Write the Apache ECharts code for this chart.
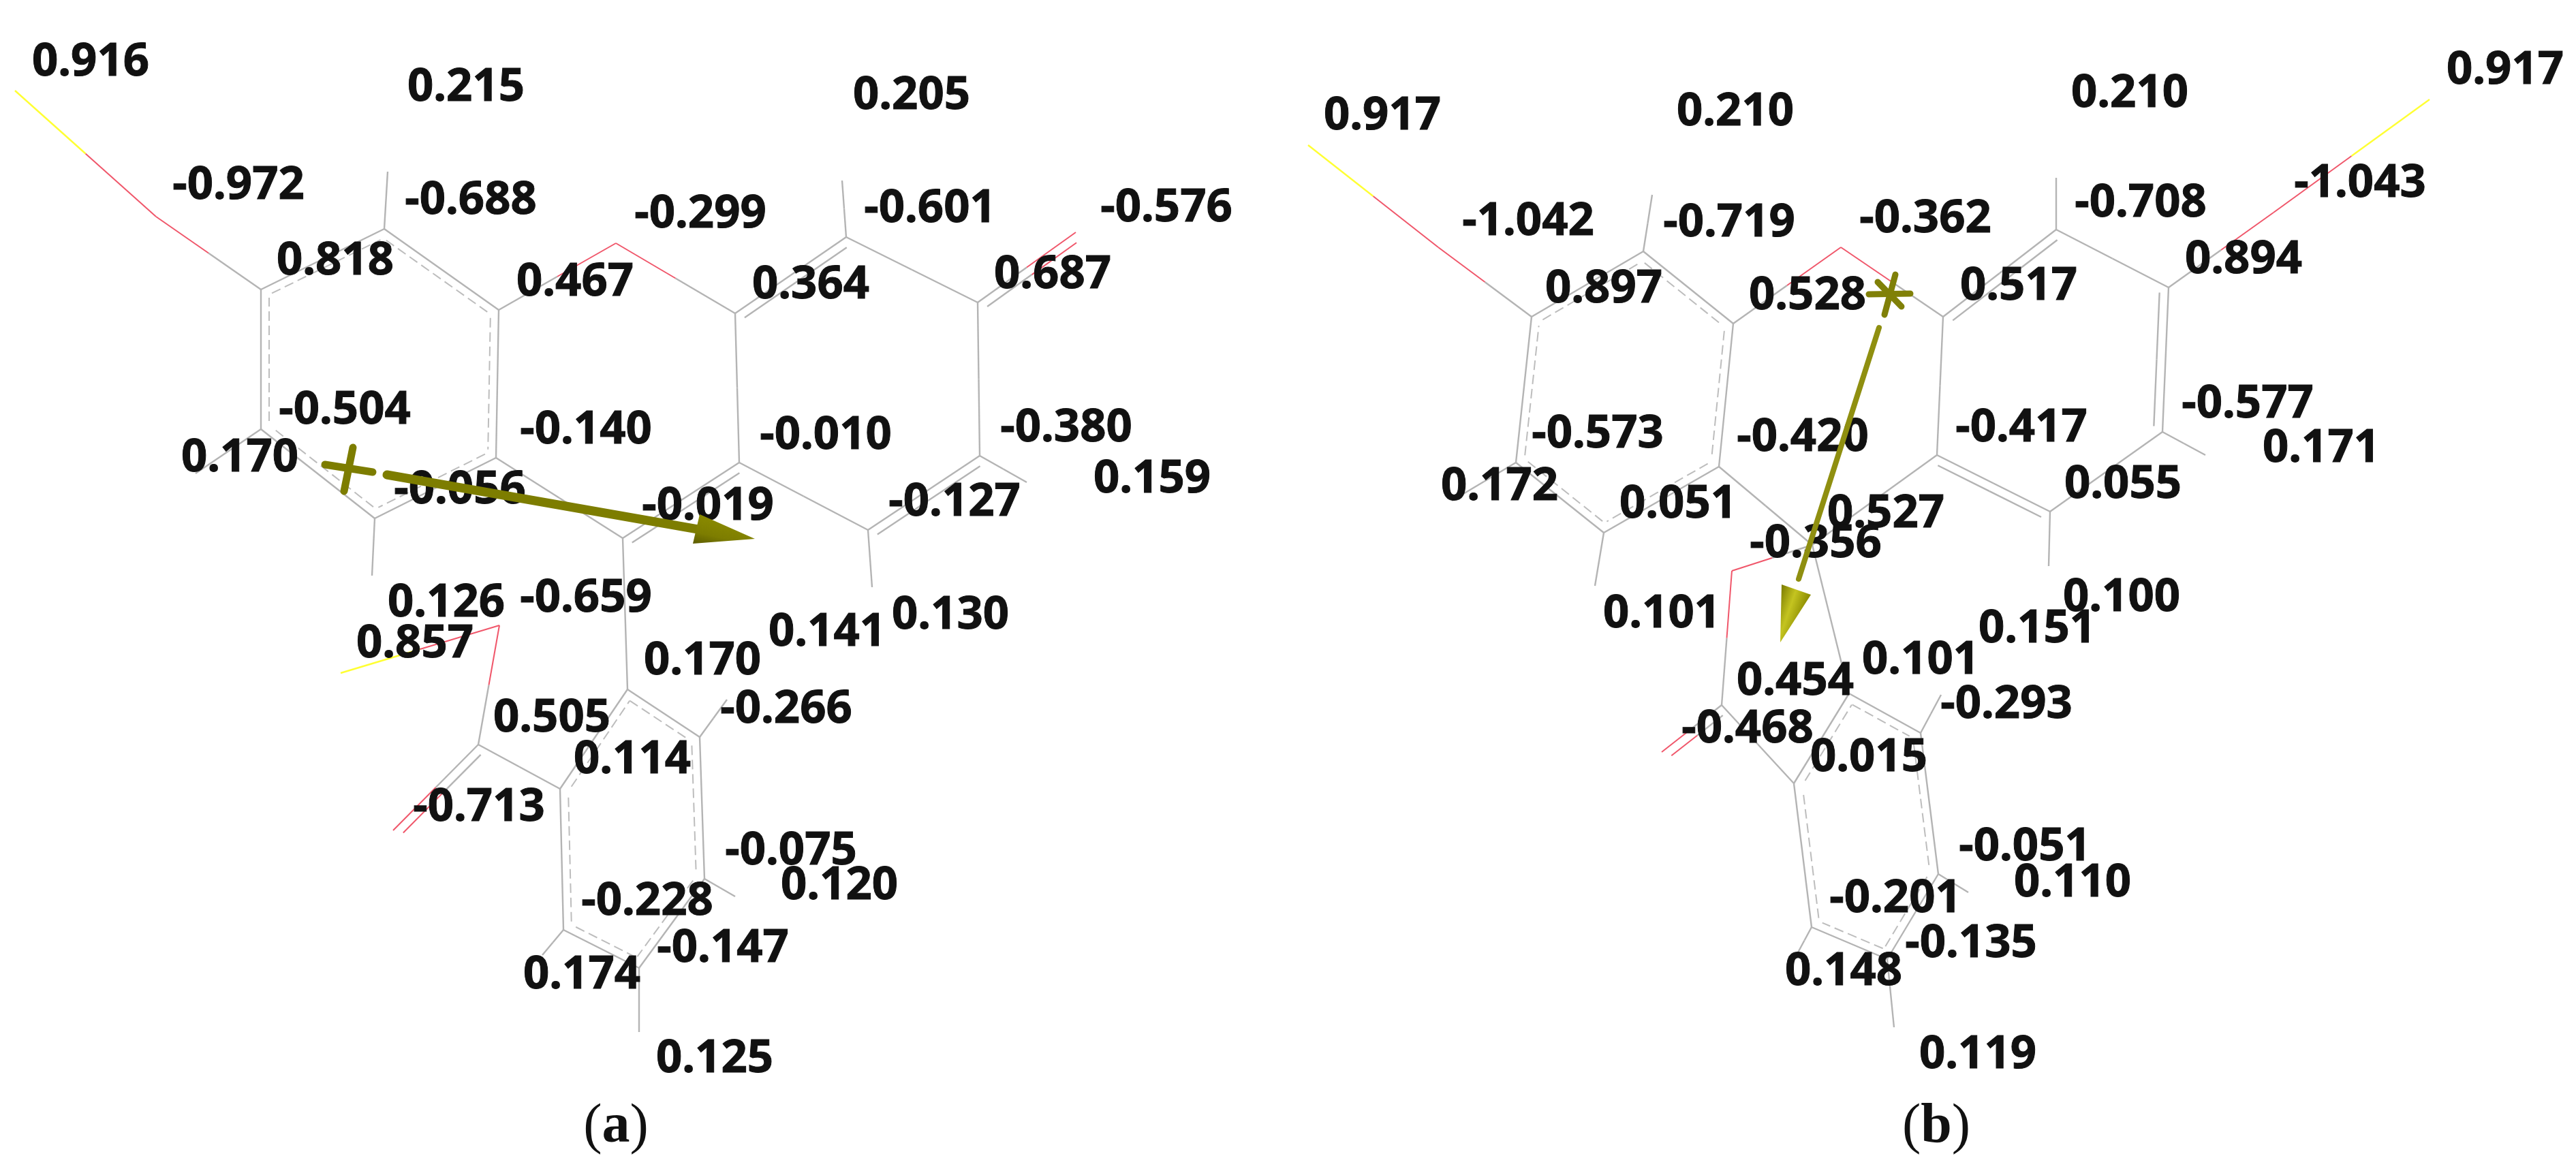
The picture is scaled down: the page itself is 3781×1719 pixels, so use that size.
<!DOCTYPE html>
<html><head><meta charset="utf-8">
<style>html,body{margin:0;padding:0;background:#fff}#c{width:3781px;height:1719px}</style>
<script src="https://cdn.jsdelivr.net/npm/echarts@6/dist/echarts.min.js"></script>
</head><body><div id="c"></div>
<script>
// Atom / bond end positions (figure units)
const atomsA = {H1:[22,133],O1:[229,318],C1:[383,425],C2:[564,336],S2:[569,252],C3:[732,455],C4:[728,672],C5:[550,761],S5:[546,845],C6:[383,630],S6:[287,695],
  O2:[904,357],C7:[1079,460],C8:[1085,679],C9:[914,790],C10:[1242,348],S10:[1236,265],C11:[1435,444],Oe:[1579,341],C12:[1438,669],S12:[1507,708],C13:[1274,778],S13:[1280,862],
  C14:[921,1012],C15:[1027,1082],S15:[1067,1027],C16:[1034,1290],S16:[1079,1316],C17:[938,1421],S17:[938,1515],C18:[827,1365],S18:[796,1402],C19:[822,1158],C20:[702,1093],Of:[577,1219],O3:[733,918],H3:[500,988]};
const singleA = [['H1','O1'],['O1','C1'],['C2','S2'],['C5','S5'],['C6','S6'],['C3','O2'],['O2','C7'],['C10','S10'],['C10','C11'],['C11','C12'],['C7','C8'],['C8','C13'],['C12','S12'],['C13','S13'],['C4','C9'],['C9','C14'],
  ['H3','O3'],['O3','C20'],['C20','C19'],['C15','S15'],['C16','S16'],['C17','S17'],['C18','S18']];
const doubleA = [['C7','C10','C11'],['C8','C9','C13'],['C12','C13','S13'],['C11','Oe','C12'],['C20','Of','C19']];
const aromaticA = [['C1','C2','C4'],['C2','C3','C5'],['C3','C4','C6'],['C4','C5','C1'],['C5','C6','C2'],['C6','C1','C3'],
  ['C14','C15','C17'],['C15','C16','C18'],['C16','C17','C19'],['C17','C18','C14'],['C18','C19','C15'],['C19','C14','C16']];

const atomsB = {H1:[1920,213],O1:[2111,363],C1:[2248,465],C2:[2412,369],S2:[2425,286],C3:[2544,475],C4:[2523,685],C5:[2354,782],S5:[2341,860],C6:[2225,679],S6:[2131,735],
  O2:[2702,363],C7:[2852,465],C8:[2843,668],C9:[2660,800],C10:[3018,337],S10:[3018,261],C11:[3183,422],O4:[3337,312],H4:[3566,146],C12:[3174,634],S12:[3237,668],C13:[3009,751],S13:[3007,831],
  O3:[2542,838],C20:[2527,1035],Of:[2439,1104],C14:[2714,1018],C15:[2819,1076],S15:[2849,1020],C16:[2845,1283],S16:[2889,1310],C17:[2770,1408],S17:[2780,1508],C18:[2659,1361],S18:[2638,1400],C19:[2633,1150]};
const singleB = [['H1','O1'],['O1','C1'],['C2','S2'],['C5','S5'],['C6','S6'],['C3','O2'],['O2','C7'],['C10','S10'],['C10','C11'],['C11','O4'],['O4','H4'],['C7','C8'],['C8','C9'],['C4','C9'],['C9','O3'],['O3','C20'],['C9','C14'],['C20','C19'],['C12','S12'],['C12','C13'],['C13','S13'],['C15','S15'],['C16','S16'],['C17','S17'],['C18','S18']];
const doubleB = [['C7','C10','C11'],['C8','C13','S13'],['C11','C12','C13'],['C20','Of','C19']];
const aromaticB = aromaticA;

// Charge labels: text, x, y
const labelsA = [['0.916',133,92],['0.215',684,129],['0.205',1338,141],['-0.972',350,273],['-0.688',691,295],['-0.299',1028,315],['-0.601',1365,307],['-0.576',1712,306],['0.818',492,384],['0.467',844,415],['0.364',1190,419],['0.687',1545,404],['-0.504',506,603],['-0.140',860,632],['-0.010',1212,640],['-0.380',1565,629],['0.170',352,673],['0.159',1691,704],['-0.056',675,720],['-0.019',1039,744],['-0.127',1401,738],['0.126',655,886],['-0.659',860,879],['0.857',609,946],['0.141',1214,929],['0.130',1395,904],['0.170',1031,971],['0.505',810,1055],['-0.266',1154,1042],['0.114',928,1116],['-0.713',703,1186],['-0.075',1161,1250],['0.120',1232,1301],['-0.228',950,1324],['-0.147',1061,1393],['0.174',854,1432],['0.125',1049,1555]];
const labelsB = [['0.917',2029,171],['0.210',2547,165],['0.210',3126,138],['0.917',3677,104],['-1.043',3464,270],['-1.042',2243,326],['-0.719',2538,328],['-0.362',2826,322],['-0.708',3142,299],['0.894',3293,382],['0.897',2354,425],['0.528',2653,435],['0.517',2963,421],['-0.577',3299,594],['-0.573',2345,638],['-0.420',2646,643],['-0.417',2967,629],['0.171',3407,659],['0.172',2201,715],['0.051',2463,741],['0.055',3116,712],['0.527',2768,755],['-0.356',2665,799],['0.100',3114,878],['0.101',2439,902],['0.151',2990,924],['0.101',2819,970],['0.454',2635,1001],['-0.293',2945,1035],['-0.468',2565,1071],['0.015',2743,1113],['-0.051',2972,1244],['0.110',3042,1297],['-0.201',2782,1320],['-0.135',2893,1386],['0.148',2706,1427],['0.119',2903,1549]];
const captions = [['a',904,1655],['b',2842,1655]];

// Dipole arrows: shaft [x1,y1,x2,y2], head [cornerX,cornerY,cornerX,cornerY,tipX,tipY], origin marks
const shaftA = [[568,697,1030,778]];
const headA = [[1027,755,1017,798,1108,791]];
const crossA = [[477,682,547,693],[518,657,505,721]];
const shaftB = [[2758,481,2640,850]];
const headB = [[2615,858,2658,873,2613,943]];
const crossB = [[2743,432,2804,431],[2766,462,2782,403],[2756,414,2791,450]];

const GREY='#b4b4b4', RED='#f0566a', YEL='#ffff33';
const colorOf = n => n[0]==='H'?YEL : n[0]==='O'?RED : GREY;
const buckets = {[GREY]:[],[RED]:[],[YEL]:[]}, dashed = [];
function half(a,b,ca,cb){const m=[(a[0]+b[0])/2,(a[1]+b[1])/2];buckets[ca].push([a[0],a[1],m[0],m[1]]);buckets[cb].push([m[0],m[1],b[0],b[1]]);}
function offset(a,b,t,d,s){const dx=b[0]-a[0],dy=b[1]-a[1],L=Math.hypot(dx,dy),ux=dx/L,uy=dy/L;let nx=-uy,ny=ux;
  if((t[0]-a[0])*nx+(t[1]-a[1])*ny<0){nx=-nx;ny=-ny;}
  return [[a[0]+nx*d+ux*s,a[1]+ny*d+uy*s],[b[0]+nx*d-ux*s,b[1]+ny*d-uy*s]];}
function build(atoms,single,dbl,aro){
  single.forEach(([i,j])=>half(atoms[i],atoms[j],colorOf(i),colorOf(j)));
  dbl.forEach(([i,j,k])=>{half(atoms[i],atoms[j],colorOf(i),colorOf(j));
    const [p,q]=offset(atoms[i],atoms[j],atoms[k],13,8);half(p,q,colorOf(i),colorOf(j));});
  aro.forEach(([i,j,k])=>{buckets[GREY].push([...atoms[i],...atoms[j]]);
    const [p,q]=offset(atoms[i],atoms[j],atoms[k],12,12);dashed.push([p[0],p[1],q[0],q[1]]);});
}
build(atomsA,singleA,doubleA,aromaticA);
build(atomsB,singleB,doubleB,aromaticB);

function segSeries(name,data,color,width,z,extra){
  return {type:'custom',name,coordinateSystem:'cartesian2d',z,silent:true,clip:false,data,encode:{x:[0,2],y:[1,3]},
    renderItem(p,api){const a=api.coord([api.value(0),api.value(1)]),b=api.coord([api.value(2),api.value(3)]);
      return {type:'line',shape:{x1:a[0],y1:a[1],x2:b[0],y2:b[1]},style:Object.assign({stroke:color,lineWidth:width,fill:null},extra||{})};}};
}
function headSeries(name,data,stops,z){
  return {type:'custom',name,coordinateSystem:'cartesian2d',z,silent:true,clip:false,data,encode:{x:[0,2,4],y:[1,3,5]},
    renderItem(p,api){const a=api.coord([api.value(0),api.value(1)]),b=api.coord([api.value(2),api.value(3)]),c=api.coord([api.value(4),api.value(5)]);
      return {type:'polygon',shape:{points:[a,b,c]},style:{fill:new echarts.graphic.LinearGradient(a[0],a[1],b[0],b[1],stops,true)}};}};
}
function labelSeries(name,data,z){
  return {type:'scatter',name,z,silent:true,symbolSize:1,itemStyle:{color:'transparent',opacity:1},clip:false,
    data:data.map(d=>({value:[d[1],d[2]],name:d[0]})),
    label:{show:true,position:'inside',formatter:p=>p.name,color:'#111',textBorderColor:'#111',textBorderWidth:1,fontFamily:'Noto Sans',fontWeight:'bold',fontSize:67}};
}
const OLIVE_A='#7d7d00', OLIVE_B='#8f8f10';
const chart = echarts.init(document.getElementById('c'),null,{renderer:'canvas',width:3781,height:1719});
chart.setOption({
  animation:false,backgroundColor:'#fff',
  grid:{left:0,right:0,top:0,bottom:0},
  xAxis:{type:'value',min:0,max:3781,show:false},
  yAxis:{type:'value',min:0,max:1719,inverse:true,show:false},
  series:[
    segSeries('bonds',buckets[GREY],GREY,2.4,1),
    segSeries('aromatic',dashed,'#bdbdbd',2,1,{lineDash:[14,7]}),
    segSeries('oxygen',buckets[RED],RED,2,1),
    segSeries('hydrogen',buckets[YEL],YEL,2.4,1),
    labelSeries('charges a',labelsA,3),
    labelSeries('charges b',labelsB,3),
    segSeries('dipole a',shaftA,OLIVE_A,13,5,{lineCap:'round'}),
    segSeries('origin a',crossA,OLIVE_A,11,5,{lineCap:'round'}),
    headSeries('head a',headA,[{offset:0,color:'#8a8a00'},{offset:.6,color:'#7d7d00'},{offset:1,color:'#5c5c00'}],6),
    segSeries('dipole b',shaftB,OLIVE_B,8,5,{lineCap:'round'}),
    segSeries('origin b',crossB,'#808008',9,5,{lineCap:'round'}),
    headSeries('head b',headB,[{offset:0,color:'#7a7a00'},{offset:.5,color:'#c4c420'},{offset:1,color:'#8a8a00'}],6),
    {type:'scatter',name:'captions',z:3,silent:true,symbolSize:1,itemStyle:{color:'transparent',opacity:1},clip:false,
      data:captions.map(d=>({value:[d[1],d[2]],name:d[0]})),
      label:{show:true,position:'inside',textBorderColor:'transparent',formatter:p=>'{p|(}{b|'+p.name+'}{p|)}',
        rich:{p:{fontFamily:'Liberation Serif',fontSize:82,color:'#111',textBorderColor:'transparent',textBorderWidth:0},b:{fontFamily:'Liberation Serif',fontSize:82,fontWeight:'bold',color:'#111',textBorderColor:'transparent',textBorderWidth:0}}}}
  ]
});
</script></body></html>
